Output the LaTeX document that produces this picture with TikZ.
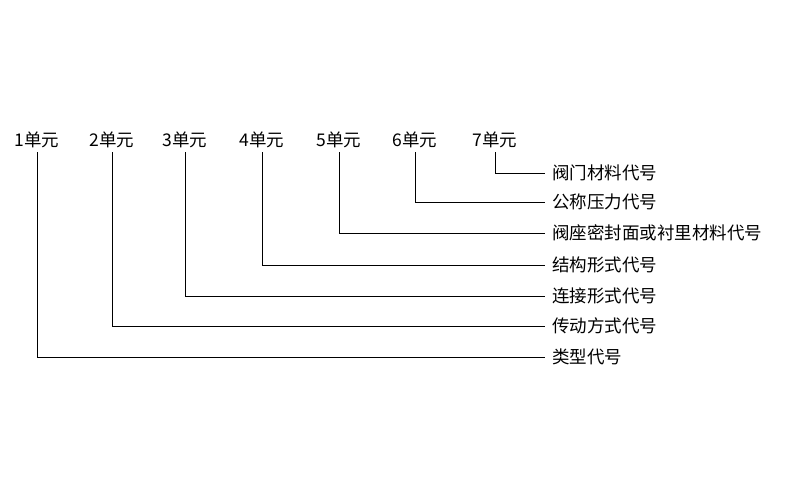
\documentclass[tikz,border=0pt]{standalone}
\usepackage{fontspec}
\setmainfont{Liberation Sans}
\newfontfamily\cjk{Noto Sans CJK SC}
\begin{document}
\begin{tikzpicture}[x=1pt,y=-1pt,
  unitlbl/.style={font=\cjk\fontsize{17.5}{20}\selectfont,inner sep=2pt},
  desc/.style={font=\cjk\fontsize{17.5}{20}\selectfont,anchor=west,inner sep=7pt},
  conn/.style={draw=black,line width=0.6pt}]
\useasboundingbox (0,0) rectangle (800,500);
\foreach \i/\x in {1/37,2/112,3/185,4/262,5/339,6/415,7/495}{
  \node[unitlbl] (u\i) at (\x,140) {\i 单元};
}
\node[desc] (t7) at (545,173) {阀门材料代号};
\node[desc] (t6) at (545,202) {公称压力代号};
\node[desc] (t5) at (545,233) {阀座密封面或衬里材料代号};
\node[desc] (t4) at (545,265) {结构形式代号};
\node[desc] (t3) at (545,296) {连接形式代号};
\node[desc] (t2) at (545,326) {传动方式代号};
\node[desc] (t1) at (545,357) {类型代号};
\foreach \i in {1,...,7}{
  \draw[conn] ([yshift=-2pt]u\i.south) |- (t\i.west);
}
\end{tikzpicture}
\end{document}
